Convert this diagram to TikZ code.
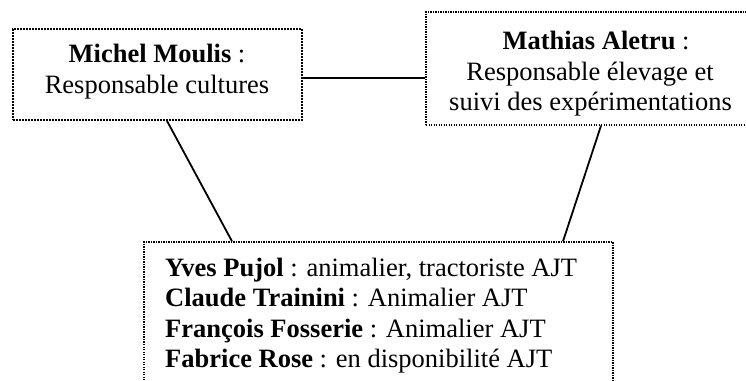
\documentclass[tikz,border=0pt]{standalone}
\usepackage{fontspec}
\setmainfont{Liberation Serif}
\begin{document}
\begin{tikzpicture}[x=1pt,y=-1pt,
  dotbox/.style={draw=black, line width=1.8pt, dash pattern=on 1.6pt off 1.4pt, inner sep=0pt, rectangle},
  thinbox/.style={dotbox, line width=1.4pt, dash pattern=on 1.3pt off 1.2pt},
  txt/.style={inner sep=0pt, anchor=base, font=\fontsize{26.5}{30.5}\selectfont},
  ltxt/.style={txt, anchor=base west},
  link/.style={draw=black, line width=1.8pt}]
\useasboundingbox (0,0) rectangle (746,380);
\clip (0,0) rectangle (746,380);
% boxes
\node[dotbox, minimum width=289pt, minimum height=91pt] (mm) at (157.5,74.5) {};
\node[thinbox, minimum width=330pt, minimum height=113pt] (ma) at (591,68.5) {};
\node[thinbox, minimum width=469pt, minimum height=150pt] (eq) at (378.5,317) {};
% texts
\node[txt] (mm1) at (157,62.7) {\textbf{Michel Moulis} :};
\node[txt] (mm2) at (157,93.3) {Responsable cultures};
\node[txt] (ma1) at (596,49.3) {\textbf{Mathias Aletru} :};
\node[txt] (ma2) at (590,80) {Responsable élevage et};
\node[txt] (ma3) at (590.5,110.7) {suivi des expérimentations};
\node[ltxt] (e1) at (165,276) {\textbf{Yves Pujol} : animalier, tractoriste AJT};
\node[ltxt] (e2) at (165,306.5) {\textbf{Claude Trainini} : Animalier AJT};
\node[ltxt] (e3) at (165,337) {\textbf{François Fosserie} : Animalier AJT};
\node[ltxt] (e4) at (165,367.5) {\textbf{Fabrice Rose} : en disponibilité AJT};
% connectors
\draw[link] ([yshift=-3.2pt]mm.east) -- ([yshift=-3.2pt]mm.east -| ma.west);
\draw[link] ([xshift=9.5pt]mm.south) -- ([xshift=-146.5pt]eq.north);
\draw[link] ([xshift=10pt]ma.south) -- ([xshift=184.5pt]eq.north);
\end{tikzpicture}
\end{document}
